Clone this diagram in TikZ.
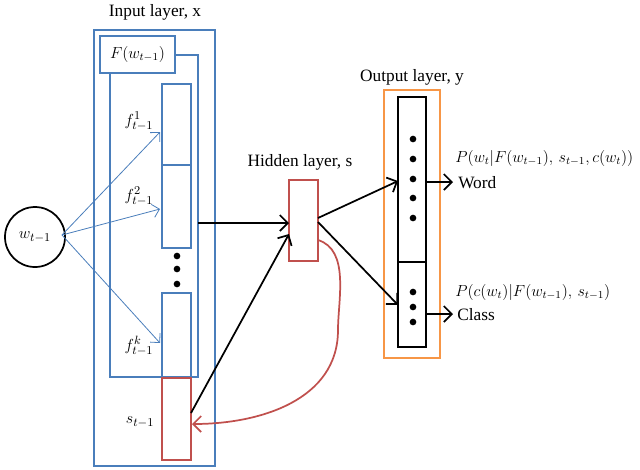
\documentclass[tikz,border=0pt]{standalone}
\usepackage{fontspec}
\setmainfont{Liberation Serif}
\usetikzlibrary{arrows.meta}
\definecolor{bl}{RGB}{74,126,187}
\definecolor{rd}{RGB}{192,80,77}
\definecolor{og}{RGB}{247,150,70}
\begin{document}
\begin{tikzpicture}[x=0.75pt,y=-0.75pt,
  bbox/.style={draw=bl,line width=1.3pt},
  rbox/.style={draw=rd,line width=1.3pt},
  kbox/.style={draw=black,line width=1.3pt},
  sz/.style 2 args={minimum width=#1*0.75pt,minimum height=#2*0.75pt,inner sep=0pt},
  barr/.style={draw=bl,-{Straight Barb[length=5pt]},line width=0.6pt},
  karr/.style={draw=black,-{Straight Barb[length=6pt]},line width=1.3pt},
  lbl/.style={font=\fontsize{13}{15}\selectfont,inner sep=0pt},
  dot/.style={circle,fill=black,inner sep=0pt,minimum size=5pt}]
\useasboundingbox (0,0) rectangle (640,469);
% input layer
\draw[bbox] (94,30) rectangle (215,466);
\node[lbl] (tin) at (155,12) {Input layer, x};
\draw[draw=bl,line width=1.1pt] (175,55) -- (198,55) -- (198,377) -- (110,377) -- (110,73);
\node[bbox,fill=white,sz={75}{37}] (F) at (137.5,54.5) {\fontsize{12}{14}\selectfont$F(w_{t-1})$};
\coordinate (inR) at (198,223);
\node[bbox,sz={29}{81}] (f1) at (176.5,124.5) {};
\node[bbox,sz={29}{83}] (f2) at (176.5,206.5) {};
\node[bbox,sz={29}{84}] (fk) at (176.5,335) {};
\node[rbox,sz={29}{82}] (s) at (176.5,419) {};
\node[dot] (d1) at (177,256) {};
\node[dot] (d2) at (177,269) {};
\node[dot] (d3) at (177,284) {};
\node[lbl] (l1) at (139,121) {$f^1_{t-1}$};
\node[lbl] (l2) at (139,196) {$f^2_{t-1}$};
\node[lbl] (lk) at (139,346) {$f^k_{t-1}$};
\node[lbl] (ls) at (140,422) {$s_{t-1}$};
% word circle
\node[draw,circle,line width=1.3pt,sz={60}{60}] (w) at (35,237) {\fontsize{13}{15}\selectfont$w_{t-1}$};
\coordinate (wr) at (62,235);
\draw[barr] (wr) -- (160,132);
\draw[barr] (wr) -- (160,209);
\draw[barr] (wr) -- (160,343);
% hidden
\node[rbox,sz={29}{81}] (h) at (303.5,220.5) {};
\node[lbl] (th) at (300,162) {Hidden layer, s};
\draw[karr] (inR) -- (289,223);
\draw[karr] (191,413) -- (289,234);
% output
\draw[draw=og,line width=1.3pt] (384,90) rectangle (440,358);
\node[lbl] (to) at (412,77) {Output layer, y};
\node[kbox,sz={28}{165}] (ow) at (412,179.5) {};
\node[kbox,sz={28}{85}] (oc) at (412,304.5) {};
\foreach \y [count=\i] in {139,159,179,198,218} \node[dot] (wd\i) at (413,\y) {};
\foreach \y [count=\i] in {292,307,322} \node[dot] (cd\i) at (413,\y) {};
\draw[karr] (318,218) -- (398,181);
\draw[karr] (318,222) -- (398,305);
\node[lbl,anchor=west] (word) at (458,183) {Word};
\node[lbl,anchor=west] (cls) at (457,315) {Class};
\draw[karr] (426,182) -- (453,182);
\draw[karr] (426,314) -- (453,314);
\node[lbl,anchor=west,font=\fontsize{12}{14}\selectfont] (pw) at (455,158) {$P(w_t|F(w_{t-1}),\,s_{t-1},c(w_t))$};
\node[lbl,anchor=west,font=\fontsize{12}{14}\selectfont] (pc) at (455,292) {$P(c(w_t)|F(w_{t-1}),\,s_{t-1})$};
% recurrent
\draw[draw=rd,line width=1.3pt,-{Straight Barb[length=6pt]}] (318,240) .. controls (350,250) and (338,300) .. (338,330) .. controls (338,400) and (260,424) .. (192,424);
\end{tikzpicture}
\end{document}
